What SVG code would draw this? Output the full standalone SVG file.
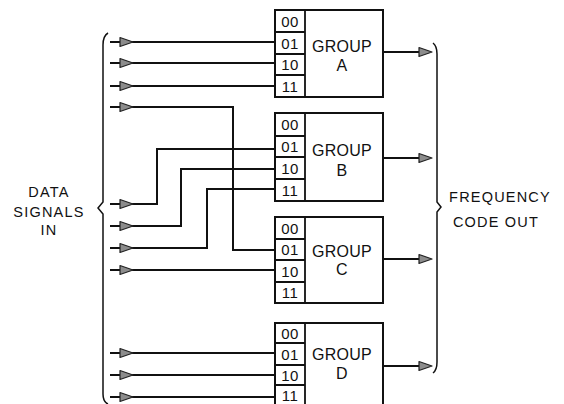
<svg xmlns="http://www.w3.org/2000/svg" xmlns:xlink="http://www.w3.org/1999/xlink" width="564" height="404" viewBox="0 0 564 404">
<style>
  .box{fill:#fff;stroke:#111;stroke-width:2}
  .cell{fill:none;stroke:#111;stroke-width:1.8}
  .ln{fill:none;stroke:#111;stroke-width:2}
  .br{fill:none;stroke:#111;stroke-width:1.5}
  .ah{fill:#8c8c8c;stroke:#222;stroke-width:1.2;stroke-linejoin:round}
  text{font-family:"Liberation Sans",Arial,sans-serif;fill:#111}
  .ct{font-size:15px;text-anchor:middle;letter-spacing:0.5px}
  .gt{font-size:16px;text-anchor:middle;letter-spacing:0.3px}
  .lt{font-size:14.5px;text-anchor:middle;letter-spacing:1.2px}
</style>
<defs>
  <path id="ah" class="ah" d="M0,-4.5 L13,0 L0,4.5 Z"/>
</defs>
<rect width="564" height="404" fill="#fff"/>

<g id="connectors">
  <path class="ln" d="M110,42 H275"/>
  <path class="ln" d="M110,63 H275"/>
  <path class="ln" d="M110,86 H275"/>
  <path class="ln" d="M110,107 H233 V250 H275"/>
  <path class="ln" d="M110,204 H157 V149 H275"/>
  <path class="ln" d="M110,226 H181 V169 H275"/>
  <path class="ln" d="M110,248 H207 V189 H275"/>
  <path class="ln" d="M110,270 H275"/>
  <path class="ln" d="M110,353 H275"/>
  <path class="ln" d="M110,375 H275"/>
  <path class="ln" d="M110,397 H275"/>
  <use href="#ah" x="120" y="42"/>
  <use href="#ah" x="120" y="63"/>
  <use href="#ah" x="120" y="86"/>
  <use href="#ah" x="120" y="107"/>
  <use href="#ah" x="120" y="204"/>
  <use href="#ah" x="120" y="226"/>
  <use href="#ah" x="120" y="248"/>
  <use href="#ah" x="120" y="270"/>
  <use href="#ah" x="120" y="353"/>
  <use href="#ah" x="120" y="375"/>
  <use href="#ah" x="120" y="397"/>
  <path class="ln" d="M383,52 H420"/>
  <path class="ln" d="M383,158 H420"/>
  <path class="ln" d="M383,259 H420"/>
  <path class="ln" d="M383,366 H420"/>
  <use href="#ah" x="419" y="52"/>
  <use href="#ah" x="419" y="158"/>
  <use href="#ah" x="419" y="259"/>
  <use href="#ah" x="419" y="366"/>
</g>

<g id="brace-in">
  <path class="br" d="M108,33 Q103,36 103,45 V202 L98,208 L103,214 V394 Q103,402 108,404"/>
</g>
<g id="brace-out">
  <path class="br" d="M433,43 Q437,46 437,54 V202 L441,207 L437,212 V362 Q437,370 433,373"/>
</g>

<g id="label-in">
  <text class="lt" x="49" y="197">DATA</text>
  <text class="lt" x="49" y="217">SIGNALS</text>
  <text class="lt" x="49" y="235">IN</text>
</g>
<g id="label-out">
  <text class="lt" x="500" y="202">FREQUENCY</text>
  <text class="lt" x="496" y="227">CODE OUT</text>
</g>

<g id="group-a">
  <rect class="box" x="275" y="10" width="108" height="87"/>
  <path class="cell" d="M305,10 V97 M275,32 H305 M275,54 H305 M275,75 H305"/>
  <text class="ct" x="290" y="27">00</text>
  <text class="ct" x="290" y="49">01</text>
  <text class="ct" x="290" y="70">10</text>
  <text class="ct" x="290" y="92">11</text>
  <text class="gt" x="342" y="52">GROUP</text>
  <text class="gt" x="342" y="71">A</text>
</g>

<g id="group-b">
  <rect class="box" x="275" y="113" width="108" height="88"/>
  <path class="cell" d="M305,113 V201 M275,136 H305 M275,157 H305 M275,179 H305"/>
  <text class="ct" x="290" y="130">00</text>
  <text class="ct" x="290" y="152">01</text>
  <text class="ct" x="290" y="174">10</text>
  <text class="ct" x="290" y="196">11</text>
  <text class="gt" x="342" y="156">GROUP</text>
  <text class="gt" x="342" y="176">B</text>
</g>

<g id="group-c">
  <rect class="box" x="275" y="217" width="108" height="86"/>
  <path class="cell" d="M305,217 V303 M275,239 H305 M275,260 H305 M275,282 H305"/>
  <text class="ct" x="290" y="234">00</text>
  <text class="ct" x="290" y="255">01</text>
  <text class="ct" x="290" y="277">10</text>
  <text class="ct" x="290" y="298">11</text>
  <text class="gt" x="342" y="257">GROUP</text>
  <text class="gt" x="342" y="275">C</text>
</g>

<g id="group-d">
  <rect class="box" x="275" y="323" width="108" height="86"/>
  <path class="cell" d="M305,323 V409 M275,343 H305 M275,365 H305 M275,385 H305"/>
  <text class="ct" x="290" y="339">00</text>
  <text class="ct" x="290" y="360">01</text>
  <text class="ct" x="290" y="381">10</text>
  <text class="ct" x="290" y="401">11</text>
  <text class="gt" x="342" y="360">GROUP</text>
  <text class="gt" x="342" y="379">D</text>
</g>
</svg>
